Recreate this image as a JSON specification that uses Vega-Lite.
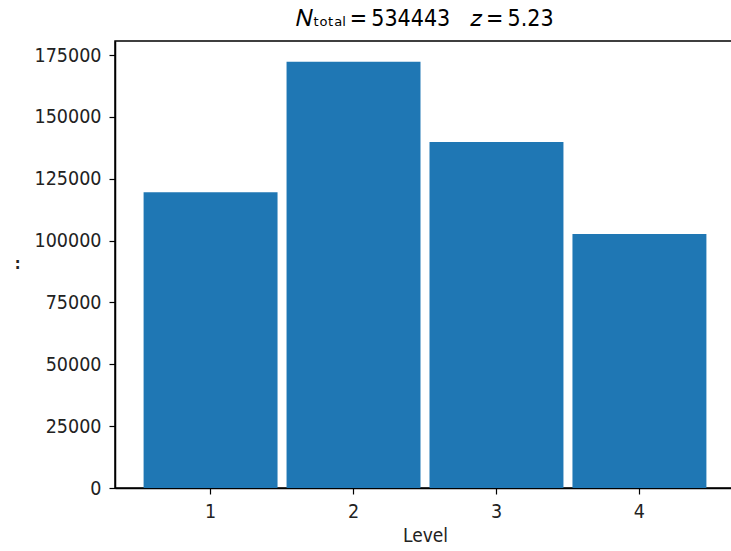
{
  "$schema": "https://vega.github.io/schema/vega-lite/v6.json",
  "width": 620,
  "height": 447,
  "autosize": "none",
  "padding": {"left": 115, "top": 41, "right": 0, "bottom": 63},
  "background": "white",
  "data": {
    "values": [
      {"Level": "1", "count": 119600},
      {"Level": "2", "count": 172300},
      {"Level": "3", "count": 139900},
      {"Level": "4", "count": 102643}
    ]
  },
  "title": {
    "text": "𝑁ₜₒₜₐₗ\u2009=\u2009534443\u00a0\u00a0\u00a0𝑧\u2009=\u20095.23",
    "font": "DejaVu Sans Condensed",
    "fontSize": 23,
    "fontWeight": "normal",
    "color": "black",
    "anchor": "middle",
    "offset": 10
  },
  "config": {
    "view": {"stroke": "black", "strokeWidth": 1.5},
    "axis": {
      "domainColor": "black",
      "domainWidth": 1.5,
      "tickColor": "black",
      "tickWidth": 1.2,
      "tickSize": 6,
      "labelColor": "#222222",
      "labelFont": "DejaVu Sans Condensed",
      "labelFontSize": 19.5,
      "titleFont": "DejaVu Sans Condensed",
      "titleFontWeight": "normal",
      "titleColor": "#222222",
      "grid": false
    }
  },
  "mark": {"type": "bar", "color": "#1f77b4"},
  "encoding": {
    "x": {
      "field": "Level",
      "type": "ordinal",
      "scale": {"paddingInner": 0.063, "paddingOuter": 0.2},
      "axis": {
        "title": "Level",
        "titleFontSize": 19,
        "labelAngle": 0,
        "labelPadding": 8,
        "titlePadding": 6
      }
    },
    "y": {
      "field": "count",
      "type": "quantitative",
      "scale": {"domain": [0, 180700], "nice": false, "zero": true},
      "axis": {
        "title": ":",
        "titleFontSize": 16,
        "titleFontWeight": "bold",
        "titleAngle": 0,
        "titleAlign": "center",
        "titleBaseline": "middle",
        "titleX": -98,
        "titleY": 222,
        "values": [0, 25000, 50000, 75000, 100000, 125000, 150000, 175000],
        "format": "d",
        "labelPadding": 8
      }
    }
  }
}
